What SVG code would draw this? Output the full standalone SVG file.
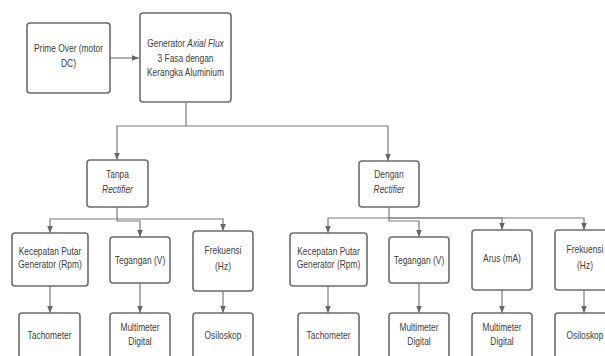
<svg xmlns="http://www.w3.org/2000/svg" width="605" height="356" viewBox="0 0 605 356">
<style>
.b{fill:#fff;stroke:#6c6c6c;stroke-width:1.6}
.t{font-family:"Liberation Sans",Arial,sans-serif;font-size:10.5px;fill:#3c3c3c;text-anchor:middle}
.i{font-style:italic}
.c{fill:none;stroke:#7a7a7a;stroke-width:1.2;marker-end:url(#a)}
.n{fill:none;stroke:#7a7a7a;stroke-width:1.2}
</style>
<defs>
<marker id="a" markerUnits="userSpaceOnUse" markerWidth="8" markerHeight="8" viewBox="0 0 8 8" refX="7" refY="4" orient="auto">
<path d="M0,1.2 L7,4 L0,6.8 Z" fill="#666"/>
</marker>
</defs>
<rect width="605" height="356" fill="#fff"/>
<g id="connectors">
<path class="c" d="M110,58 H139"/>
<path class="n" d="M186,103 V126"/>
<path class="c" d="M186,126 H117 V160"/>
<path class="c" d="M186,126 H388 V161"/>
<path class="c" d="M117,207 V219 H50 V233"/>
<path class="c" d="M117,219 V221 H140 V237"/>
<path class="c" d="M117,219 H223 V231"/>
<path class="c" d="M50,286 V313"/>
<path class="c" d="M140,283 V313"/>
<path class="c" d="M223,291 V313"/>
<path class="c" d="M389,207 V218 H328 V233"/>
<path class="c" d="M389,218 V221 H419 V237"/>
<path class="c" d="M389,218 H502 V230"/>
<path class="c" d="M389,218 H584 V230"/>
<path class="c" d="M328,286 V313"/>
<path class="c" d="M419,283 V313"/>
<path class="c" d="M502,290 V313"/>
<path class="c" d="M584,290 V313"/>
</g>
<g id="prime"><rect class="b" x="27" y="23" width="83" height="70" rx="3"/><text class="t" transform="translate(68.5,51.5) scale(0.8,1)">Prime Over (motor</text><text class="t" transform="translate(68.5,67) scale(0.8,1)">DC)</text></g>
<g id="generator"><rect class="b" x="140" y="13" width="91" height="89" rx="3"/><text class="t" transform="translate(185.5,47) scale(0.8,1)">Generator <tspan class="i">Axial Flux</tspan></text><text class="t" transform="translate(185.5,62) scale(0.8,1)">3 Fasa dengan</text><text class="t" transform="translate(185.5,76) scale(0.8,1)">Kerangka Aluminium</text></g>
<g id="tanpa"><rect class="b" x="87" y="160" width="61" height="47" rx="3"/><text class="t" transform="translate(117.5,177.5) scale(0.8,1)">Tanpa</text><text class="t i" transform="translate(117.5,192.5) scale(0.8,1)">Rectifier</text></g>
<g id="dengan"><rect class="b" x="359" y="161" width="60" height="46" rx="3"/><text class="t" transform="translate(389,178) scale(0.8,1)">Dengan</text><text class="t i" transform="translate(389,193) scale(0.8,1)">Rectifier</text></g>
<g id="kecL"><rect class="b" x="12" y="233" width="76" height="53" rx="3"/><text class="t" transform="translate(50,255) scale(0.8,1)">Kecepatan Putar</text><text class="t" transform="translate(50,268) scale(0.8,1)">Generator (Rpm)</text></g>
<g id="tegL"><rect class="b" x="110" y="237" width="60" height="46" rx="3"/><text class="t" transform="translate(140,264) scale(0.8,1)">Tegangan (V)</text></g>
<g id="frekL"><rect class="b" x="193" y="231" width="60" height="60" rx="3"/><text class="t" transform="translate(223,254) scale(0.8,1)">Frekuensi</text><text class="t" transform="translate(223,270) scale(0.8,1)">(Hz)</text></g>
<g id="tachL"><rect class="b" x="19" y="313" width="61" height="60" rx="3"/><text class="t" transform="translate(49.5,339) scale(0.8,1)">Tachometer</text></g>
<g id="multiL"><rect class="b" x="110" y="313" width="60" height="60" rx="3"/><text class="t" transform="translate(140,331) scale(0.8,1)">Multimeter</text><text class="t" transform="translate(140,345) scale(0.8,1)">Digital</text></g>
<g id="osiL"><rect class="b" x="193" y="313" width="60" height="60" rx="3"/><text class="t" transform="translate(223,339) scale(0.8,1)">Osiloskop</text></g>
<g id="kecR"><rect class="b" x="290" y="233" width="77" height="53" rx="3"/><text class="t" transform="translate(328.5,255) scale(0.8,1)">Kecepatan Putar</text><text class="t" transform="translate(328.5,268) scale(0.8,1)">Generator (Rpm)</text></g>
<g id="tegR"><rect class="b" x="389" y="237" width="60" height="46" rx="3"/><text class="t" transform="translate(419,264) scale(0.8,1)">Tegangan (V)</text></g>
<g id="arus"><rect class="b" x="472" y="230" width="60" height="60" rx="3"/><text class="t" transform="translate(502,262) scale(0.8,1)">Arus (mA)</text></g>
<g id="frekR"><rect class="b" x="555" y="230" width="60" height="60" rx="3"/><text class="t" transform="translate(585,253) scale(0.8,1)">Frekuensi</text><text class="t" transform="translate(585,269) scale(0.8,1)">(Hz)</text></g>
<g id="tachR"><rect class="b" x="298" y="313" width="61" height="60" rx="3"/><text class="t" transform="translate(328.5,339) scale(0.8,1)">Tachometer</text></g>
<g id="multiR"><rect class="b" x="389" y="313" width="60" height="60" rx="3"/><text class="t" transform="translate(419,331) scale(0.8,1)">Multimeter</text><text class="t" transform="translate(419,345) scale(0.8,1)">Digital</text></g>
<g id="multiR2"><rect class="b" x="472" y="313" width="60" height="60" rx="3"/><text class="t" transform="translate(502,331) scale(0.8,1)">Multimeter</text><text class="t" transform="translate(502,345) scale(0.8,1)">Digital</text></g>
<g id="osiR"><rect class="b" x="555" y="313" width="60" height="60" rx="3"/><text class="t" transform="translate(585,339) scale(0.8,1)">Osiloskop</text></g>
</svg>
